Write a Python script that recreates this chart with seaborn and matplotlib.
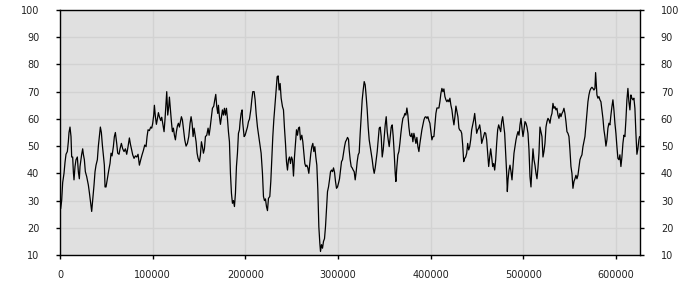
import numpy as np
import pandas as pd
import matplotlib
matplotlib.use("Agg")
import matplotlib.pyplot as plt
import seaborn as sns

x_vals = [
    720, 1800, 2880, 4320, 5400, 6480, 7920, 9000, 9720, 10800, 11880, 12600, 13680, 14400, 15120,
    16200, 17280, 18720, 19800, 20880, 21600, 23400, 24480, 25200, 26280, 27360, 28800, 30600, 31680,
    33120, 34200, 35280, 36720, 37800, 38880, 40320, 41400, 42480, 43560, 44640, 45720, 46800, 47880,
    48600, 49680, 51120, 52560, 54000, 55080, 56160, 57600, 58680, 59760, 61200, 62280, 63720, 64800,
    66240, 67680, 69120, 70560, 72000, 73440, 74880, 75960, 77400, 78480, 79920, 81360, 82800, 84240,
    85680, 87120, 88560, 90000, 91440, 92880, 93960, 95040, 96480, 97920, 99000, 100080, 101160,
    101880, 102960, 104040, 105120, 106200, 107280, 108720, 109800, 110880, 112320, 113400, 114480,
    115200, 116280, 117360, 118080, 119160, 120240, 121320, 122400, 123480, 124560, 125640, 126720,
    127800, 128880, 129960, 131040, 132120, 133200, 134640, 136080, 137520, 138960, 140400, 141480,
    142560, 143640, 144720, 145800, 146880, 147960, 149040, 150480, 151560, 152640, 153720, 154800,
    155880, 156960, 158400, 159840, 160920, 162000, 163440, 164520, 165960, 167040, 168120, 169200,
    170280, 171000, 172080, 173160, 174240, 175320, 176400, 177480, 178560, 179640, 180720, 181800,
    182880, 183960, 185040, 186120, 187200, 188280, 189360, 190440, 191520, 192600, 193680,
    194400, 195480, 196560, 197280, 198720, 199800, 200880, 202320, 203400, 204480, 205920, 207000,
    208080, 209520, 210600, 211680, 213120, 214560, 216000, 217080, 218520, 219600, 220680, 221760,
    222840, 223920, 225000, 226440, 227520, 228600, 229680, 230760, 232200, 233280, 234360, 235440,
    236520, 237600, 238680, 240120, 241200, 242280, 243360, 244440, 245520, 246600, 247680, 248760,
    249840, 250920, 252000, 253080, 254160, 255240, 256320, 257400, 258480, 259560, 261000, 262080,
    263160, 264240, 265320, 266400, 267480, 268560, 269640, 270720, 271800, 272880, 273960, 275040,
    276120, 277200, 278280, 279360, 280440, 281160, 282240, 283320, 284400, 285480, 286560, 287640,
    288720, 289800, 290880, 291960, 293040, 294120, 295200, 296280, 297360, 298440, 299520, 300600,
    301680, 302760, 303840, 304920, 306000, 307080, 308160, 309240, 310320, 311400, 312120, 313200,
    314280, 315360, 316440, 317520, 318600, 319680, 320760, 321840, 322920, 324000, 325080, 326160,
    327240, 328320, 329400, 330480, 331560, 332640, 333720, 334800, 335880, 336960, 338040, 339120,
    340200, 341280, 342360, 343440, 344520, 345600, 346680, 347760, 348840, 349920, 351000, 352080,
    353160, 354240, 355320, 356400, 357480, 358560, 359640, 360720, 361800, 362520, 363600, 364680,
    365760, 366840, 367920, 369000, 370080, 371160, 372240, 373320, 374400, 375480, 376560, 377640,
    378720, 379800, 380880, 381960, 383040, 384120, 385200, 386280, 387360, 388440, 389520, 390600,
    391680, 392760, 393840, 394920, 396000, 397080, 398160, 399240, 400320, 401400, 402480, 403560,
    404640, 405720, 406800, 407880, 408960, 410040, 411120, 412200, 413280, 414360, 415440, 416520,
    417600, 418680, 419760, 420840, 421920, 423000, 424080, 425160, 426240, 427320, 428400, 429480,
    430560,
    431400, 432480, 433560, 434640, 435710, 436790, 437870, 438950, 440030, 441110, 442190, 443260,
    444340, 445420, 446500, 447580, 448660, 449730, 450810, 451890, 452970, 454050, 455130, 456210,
    457280, 458360, 459440, 460520, 461600, 462680, 463760, 464830, 465910, 466990, 468070, 469150,
    470230, 471300, 472380, 473460, 474540, 475620, 476700, 477780, 478850, 479930, 481010, 482090,
    482810, 483530, 484610, 485680, 486760, 487840, 488920, 490000, 491080, 492160, 493230, 494310,
    495390, 496470, 497550, 498630, 499710, 500780, 501860, 502940, 504020, 505100, 506180, 507250,
    508330, 509410, 510490, 511570, 512650, 513730, 514800, 515880, 516960, 518040, 519120, 520200,
    521280, 522350, 523430, 524510, 525590, 526670, 527750, 528830, 529900, 530980, 532060, 533140,
    534220, 535300, 536370, 537450, 538530, 539610, 540690, 541770, 542850, 543920, 545000, 546080,
    547160, 548240, 549320, 550390, 551470, 552550, 553630, 554710, 555790, 556870, 557940, 559020,
    560100, 561180, 562260, 563340, 564420, 565490, 566570, 567650, 568730, 569810, 570890, 571960,
    573040, 574120, 575200, 576280, 577360, 578080, 578800, 579510, 580590, 581670, 582750, 583830,
    584910, 585990, 587060, 588140, 589220, 590300, 591380, 592460, 593530, 594610, 595690, 596770,
    597850, 598930, 600010, 601080, 602160, 603240, 604320, 605400, 606480, 607560, 608630, 609710,
    610790, 611870, 612950, 614030, 615110, 616190, 617260, 618340, 619420, 620500, 621580, 622660,
    623730, 624810, 625530,
]

y_vals = [
    27, 30, 36.6, 40, 44, 47, 48, 51.6, 55, 57, 53.5, 46, 46, 40.6, 37.6,
    42.5, 45, 46, 40.6, 38, 42.5, 47, 49, 47, 45, 40.6, 38.8, 35.7, 33,
    29, 26, 30, 35.7, 40.6, 43, 45, 50, 53.5, 57, 55, 50.4, 46.8, 43,
    35, 35, 38, 41, 43.7, 47.4, 46.4, 49.8, 53.5, 55, 51, 47.4, 47, 49,
    51, 49, 48, 49, 47, 49.8, 53, 50.8, 48.6, 46.8, 45.5, 46.4, 46, 47,
    43, 45, 46.8, 48.4, 50.4, 49.8, 53.5, 56, 55.7, 57, 56.6, 58.4, 61.4,
    65, 60.8, 58, 60, 62.3, 60.8, 59.4, 60.6, 58.4, 55.3, 60.2, 66.3,
    70, 61.4, 64.5, 68, 63.3, 59, 55.3, 56.6, 54, 52.3, 55.3, 57.4,
    58.4, 57, 59, 60.8, 59.6, 56.6, 52.3, 50, 51, 53.5, 58.4, 60.8,
    58.4, 53.5, 56.6, 54, 51.6, 47.4, 45.5, 44.3, 46.8, 51.6, 49.8, 47.4,
    49, 53.5, 54, 56.6, 54, 56.6, 60.8, 63.9, 64.7, 67, 69, 64.5,
    62, 65, 60.8, 58, 60.8, 63.3, 61.4, 63.9, 61.4, 63.9, 60.2, 55.3,
    51.6, 40, 32.7, 29, 30, 27.8, 32.7, 42.5, 47.4, 54.7, 56,
    59, 62, 63.3, 58.4, 53.5, 54, 55.3, 57, 59, 59.9, 63.3, 67,
    70, 70, 67, 62, 57, 53.5, 49.8, 47.4, 40, 31.5, 30, 30.6,
    27.8, 26.3, 30.8, 31.5, 37, 45, 53.5, 59.6, 65.7, 70.6, 75.5, 75.8,
    70.6, 73, 67.6, 64.5, 63.3, 56.6, 51, 44.3, 41.2, 45, 46, 43.6,
    46, 45, 39, 46, 51, 56, 54, 56.6, 57, 52.3, 54, 51.6,
    47.4, 43.6, 42.5, 43, 42, 40, 43.6, 47.4, 49.8, 51, 48, 49.8,
    46, 43, 34, 20.4, 14.3, 11.3, 13.8, 12.5, 15, 16, 20.4, 26.6,
    33.3, 35, 37.6, 40.6, 41.2, 40.6, 42, 40.4, 37, 34.5, 35, 36.4,
    38, 41.2, 44.3, 45, 47.4, 49.8, 51.6, 52.3, 53.2, 52.5, 48.6, 45,
    42.5, 42, 41.2, 40.6, 37.6, 40.6, 44.3, 46.8, 47.6, 54.7, 60.8, 67,
    70.6, 73.7, 72.5, 68.2, 63.3, 57, 52.3, 49.8, 47.4, 45, 42, 40,
    42, 45, 48, 52.3, 56.6, 57, 53.5, 46, 48.6, 53, 57.8, 60.8,
    55.3, 52.3, 49.8, 53.5, 57, 57.8, 53.5, 47.4, 40, 37, 42.5, 46.8,
    48, 51, 54.7, 57.8, 60.2, 60.8, 62, 61.4, 64, 61.4, 57, 54,
    53.5, 54.7, 51.6, 54.7, 53, 51, 53.2, 49.8, 48, 51, 53.5, 56,
    57.8, 59.6, 60.6, 60.8, 60.2, 60.8, 59.4, 58.4, 55.3, 52.3, 53.5, 53.5,
    57.8, 62, 64, 64, 64, 66.3, 69.4, 71.2, 70, 71, 68.2, 67,
    66.3, 67, 66.3, 67.6, 65, 63.3, 60.2, 57.8, 60.8, 64.7, 62.7, 60.8,
    56.6,
    55.9, 55.7, 54.7, 50.4, 44.3, 45.5, 46, 47.4, 51, 48.6, 49.8, 52.3,
    56, 57.8, 59.6, 62, 58.4, 54.7, 56, 56.6, 57.8, 55.3, 51, 52.3,
    53.5, 55, 54.7, 52.3, 47.4, 42.5, 46, 49, 46, 42.5, 43.6, 41.2,
    45, 51, 56, 57.8, 56.6, 55.3, 59, 60.8, 57.8, 54.7, 47.4, 40,
    33.3, 37.6, 41.2, 43, 40.6, 37.6, 42.5, 47.4, 49.8, 52.3, 54, 55.3,
    54, 57.8, 60.2, 56.6, 53.5, 56, 59, 58.4, 57, 54.7, 48.6, 38.8,
    35, 42.5, 49, 45, 43, 40, 38, 42, 47.4, 57, 55.3, 53.5,
    46, 48, 51, 57, 59, 60.2, 59.6, 58.4, 60.8, 62, 65.7, 63.9,
    64.5, 63.3, 63.9, 61.4, 60.2, 62, 60.8, 62, 62.7, 63.9, 62, 59,
    55.3, 54.7, 53.5, 48.6, 42.5, 40, 34.5, 37, 38, 39.3, 38, 39.3,
    42, 45, 46, 46.8, 49.8, 51.6, 53.5, 57.8, 62, 66.3, 68.8, 70.4,
    71.2, 71.6, 71.2, 70.6, 71.2, 77, 73, 68.8, 67.6, 68.2, 67, 66.3,
    63.3, 60.2, 56, 53.5, 50, 52.3, 56.6, 58.4, 57.8, 61.4, 64.5, 67,
    63.3, 58.4, 54.7, 49.8, 45.5, 45, 46.8, 42.5, 46, 51, 54, 53.5,
    59.6, 67, 71.2, 66.3, 63.3, 68.8, 67.6, 67, 67.6, 63.9, 54.7, 47,
    49, 52.3, 53.5,
]

x_ticks = [0, 100000, 200000, 300000, 400000, 500000, 600000]
y_ticks = [10, 20, 30, 40, 50, 60, 70, 80, 90, 100]

df = pd.DataFrame({"x": x_vals, "y": y_vals})

sns.set_style("white")
plt.rcParams["font.family"] = ["DejaVu Sans"]

fig = plt.figure(figsize=(7, 3), dpi=100)
ax = fig.add_axes([60 / 700, 1 - 255 / 300, 580 / 700, 245 / 300])
ax.set_facecolor("#e0e0e0")

sns.lineplot(data=df, x="x", y="y", ax=ax, color="black", linewidth=0.9,
             sort=False, estimator=None)

ax.set_xlim(0, 626000)
ax.set_ylim(10, 100)
ax.set_xticks(x_ticks)
ax.set_xticklabels([str(t) for t in x_ticks])
ax.set_yticks(y_ticks)
ax.set_yticklabels([str(t) for t in y_ticks])
ax.grid(True, color="#d2d2d2", linewidth=1)
ax.set_axisbelow(True)
ax.set_xlabel("")
ax.set_ylabel("")

for s in ax.spines.values():
    s.set_visible(True)
    s.set_color("black")
    s.set_linewidth(1)

ax.tick_params(axis="both", which="both", direction="out", length=3, width=1,
               color="black", labelsize=7, labelcolor="#222222",
               left=True, bottom=True, right=True, labelright=True)
ax.tick_params(axis="y", pad=12)
ax.tick_params(axis="x", pad=8)

fig.savefig("out.png", dpi=100, facecolor="white")
